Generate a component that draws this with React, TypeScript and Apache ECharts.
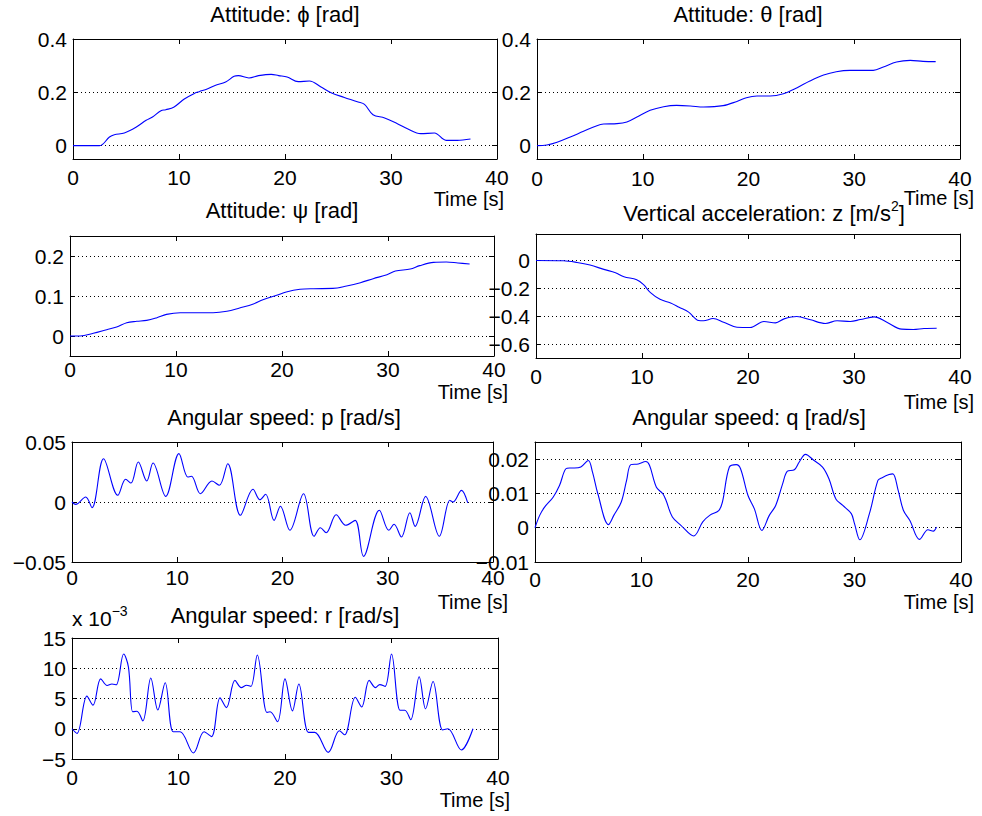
import React, { useEffect, useRef } from "react";
import * as echarts from "echarts";

// ---------- data ----------
const xTicks = [0, 10, 20, 30, 40];

const phiT = [0, 2.5, 3.44, 3.9, 4.84, 5.94, 6.9, 7.5, 8.3, 8.75, 9.5, 10.5, 11.4, 11.9, 12.66, 13.4, 14.4, 15.2, 15.6, 16.6, 17.5, 18.7, 19.4, 20.2, 21.25, 22.3, 23.4, 24.4, 25.6, 26.9, 27.5, 28.3, 29.4, 30.6, 31.6, 32.8, 34.1, 35.2, 36.25, 37.5];
const phiV = [0, 0, 0.0325, 0.041, 0.0475, 0.069, 0.095, 0.1075, 0.131, 0.135, 0.144, 0.175, 0.195, 0.2025, 0.2125, 0.226, 0.239, 0.26, 0.2625, 0.254, 0.2625, 0.2675, 0.2625, 0.2575, 0.24, 0.2425, 0.22, 0.1975, 0.181, 0.164, 0.155, 0.116, 0.104, 0.0825, 0.0625, 0.045, 0.0475, 0.02, 0.02, 0.025];
const phiTicks = [0, 0.2, 0.4];

const thetaT = [0, 0.94, 1.9, 3.15, 4.4, 5.67, 6.3, 7.56, 8.5, 9.45, 10.7, 11.97, 13.2, 14.5, 15.75, 17.6, 18.9, 19.8, 20.8, 22.05, 23.3, 24.6, 25.8, 27.1, 28.3, 29.6, 30.9, 31.8, 32.75, 34.0, 35.3, 36.5, 37.7];
const thetaV = [0, 0.0025, 0.0125, 0.0325, 0.054, 0.075, 0.081, 0.0825, 0.089, 0.1075, 0.1325, 0.146, 0.151, 0.149, 0.145, 0.15, 0.166, 0.18, 0.186, 0.186, 0.195, 0.2175, 0.2425, 0.265, 0.2775, 0.2825, 0.2825, 0.2825, 0.295, 0.314, 0.32, 0.316, 0.315];
const thetaTicks = [0, 0.2, 0.4];

const psiT = [0, 0.94, 2.2, 3.46, 4.4, 5.35, 6.3, 7.23, 8.2, 9.1, 10.4, 11.6, 13.5, 14.8, 16.0, 17.3, 18.2, 19.5, 20.4, 21.7, 22.96, 24.8, 26.1, 27.4, 28.6, 29.9, 30.7, 32.1, 33.0, 34.3, 35.5, 36.6, 37.7];
const psiV = [0, 0, 0.0067, 0.0158, 0.0225, 0.0333, 0.0367, 0.039, 0.0458, 0.054, 0.058, 0.058, 0.058, 0.0617, 0.07, 0.08, 0.0908, 0.1017, 0.11, 0.1167, 0.1183, 0.119, 0.125, 0.1333, 0.1433, 0.1533, 0.1625, 0.1675, 0.176, 0.184, 0.185, 0.1825, 0.18];
const psiTicks = [0, 0.1, 0.2];

const zT = [0, 2.6, 3.87, 5.1, 6.4, 7.5, 8.3, 9.5, 10.15, 10.8, 11.7, 12.7, 13.5, 14.4, 15.35, 15.8, 16.7, 17.7, 18.96, 20.2, 21.5, 22.6, 23.4, 24.6, 25.9, 27.3, 28.4, 29.65, 30.6, 31.9, 33.1, 34.5, 35.6, 36.6, 37.8];
const zV = [0, -0.002, -0.014, -0.033, -0.064, -0.088, -0.117, -0.138, -0.174, -0.231, -0.279, -0.305, -0.336, -0.371, -0.431, -0.433, -0.417, -0.443, -0.479, -0.481, -0.438, -0.448, -0.419, -0.402, -0.426, -0.452, -0.433, -0.438, -0.424, -0.405, -0.443, -0.493, -0.495, -0.488, -0.486];
const zTicks = [-0.6, -0.4, -0.2, 0];

const pT = [0, 0.35, 1.3, 1.9, 3.0, 4.35, 5.1, 5.6, 6.3, 7.1, 7.7, 8.9, 10.16, 11.0, 11.35, 12.2, 13.3, 14.0, 14.8, 16.0, 17.2, 17.85, 18.4, 19.2, 19.8, 20.7, 22.0, 23.0, 23.6, 24.15, 25.1, 26.0, 26.9, 27.7, 29.2, 30.1, 30.6, 31.3, 32.1, 32.6, 33.6, 34.9, 35.9, 36.2, 37.0, 37.6];
const pV = [0, -0.002, 0.0042, -0.0047, 0.0361, 0.0056, 0.0189, 0.0158, 0.0333, 0.0175, 0.0325, 0.0047, 0.0403, 0.0208, 0.0214, 0.0069, 0.0175, 0.0139, 0.0319, -0.0111, 0.0106, 0.0019, 0.0064, -0.0153, -0.0036, -0.0236, 0.0069, -0.0286, -0.0214, -0.0256, -0.0106, -0.0194, -0.0153, -0.0453, -0.0069, -0.0236, -0.0186, -0.0292, -0.0089, -0.0203, 0.0047, -0.0286, 0.0014, 0, 0.0097, -0.0008];
const pTicks = [-0.05, 0, 0.05];

const qT = [0, 0.44, 0.9, 1.7, 2.3, 2.9, 3.25, 3.7, 4.3, 5.0, 5.4, 5.9, 6.9, 7.4, 8.1, 8.6, 9.0, 9.7, 10.4, 10.75, 11.4, 12.0, 12.3, 12.9, 13.7, 14.9, 15.75, 16.4, 17.25, 17.6, 18.25, 18.9, 19.3, 20.0, 20.6, 21.3, 22.0, 22.6, 23.25, 23.7, 24.35, 24.8, 25.4, 26.2, 27.0, 27.6, 28.25, 28.9, 29.7, 30.0, 30.5, 31.4, 32.2, 32.6, 33.25, 33.6, 34.1, 34.6, 35.2, 36.1, 36.9, 37.4, 37.7];
const qV = [0, 0.0036, 0.006, 0.0089, 0.0123, 0.0172, 0.0174, 0.0174, 0.0177, 0.0196, 0.0162, 0.0099, 0.0009, 0.0036, 0.0075, 0.0138, 0.0184, 0.0186, 0.0193, 0.0182, 0.0118, 0.0099, 0.008, 0.0031, 0.0007, -0.0024, 0.0017, 0.0036, 0.005, 0.0075, 0.0177, 0.0184, 0.0172, 0.0094, 0.0055, -0.0008, 0.0036, 0.0065, 0.0128, 0.0165, 0.0169, 0.0191, 0.0214, 0.0196, 0.0177, 0.0143, 0.0084, 0.0065, 0.0041, 0.0012, -0.0035, 0.0041, 0.0138, 0.0146, 0.0155, 0.0157, 0.0109, 0.005, 0.0021, -0.0034, -0.0006, -0.001, 0.0002];
const qTicks = [-0.01, 0, 0.01, 0.02];

// r values in units of 1e-3 rad/s
const rT = [0, 0.47, 1.4, 1.97, 2.7, 3.3, 3.75, 4.15, 4.85, 5.3, 5.7, 6.1, 6.65, 7.4, 8.06, 8.75, 9.5, 10.15, 11.4, 12.4, 13.1, 13.9, 14.5, 15.3, 15.9, 16.4, 16.8, 17.4, 18.3, 18.6, 19.3, 20.0, 20.7, 21.3, 22.2, 22.8, 24.06, 25.1, 25.6, 26.6, 27.2, 27.9, 28.5, 28.9, 29.4, 30.0, 30.8, 31.25, 31.8, 32.6, 33.2, 33.9, 34.8, 35.3, 36.56, 37.65];
const rV = [0, -0.77, 5.4, 3.9, 8.25, 7.16, 7.4, 7.27, 12.35, 10.2, 2.8, 2.9, 1.3, 8.4, 3.1, 7.6, -0.5, -0.5, -4.0, -0.5, -1.3, 5.1, 3.5, 8.0, 6.8, 7.2, 7.0, 12.2, 2.7, 2.8, 1.15, 8.25, 2.95, 7.4, -0.6, -0.6, -3.9, -0.33, -1.0, 5.2, 3.6, 8.0, 6.8, 7.3, 7.0, 12.35, 3.06, 3.06, 1.5, 8.6, 3.3, 7.8, -0.2, 0, -3.5, 0];
const rTicks = [-5, 0, 5, 10, 15];

const titles = [
  "Attitude: \u03d5 [rad]",
  "Attitude: \u03b8 [rad]",
  "Attitude: \u03c8 [rad]",
  "Vertical acceleration: z [m/s{sup|2}]",
  "Angular speed: p [rad/s]",
  "Angular speed: q [rad/s]",
  "Angular speed: r [rad/s]",
];
const xLabel = "Time [s]";

// ---------- layout / style ----------
const FONT = '"Liberation Sans", Arial, Helvetica, sans-serif';
const BLUE = "#0000ff";

const zip = (t: number[], v: number[]) => {
  const n = Math.min(t.length, v.length);
  const out: number[][] = [];
  for (let i = 0; i < n; i++) out.push([t[i], v[i]]);
  return out;
};
const fmt = (v: number) => String(parseFloat(Number(v).toPrecision(6))).replace("-", "\u2212");

export default function App() {
  const ref = useRef<HTMLDivElement>(null);
  useEffect(() => {
    if (!ref.current) return;
    const chart = echarts.init(ref.current, null, { renderer: "svg" });
    const panels = [
      { t: phiT, v: phiV, min: -0.05, max: 0.4, ticks: phiTicks, g: { left: 73, top: 39, width: 424, height: 120 }, xm: 8, title: [285, 14], xl: [504, 199] },
      { t: thetaT, v: thetaV, min: -0.05, max: 0.4, ticks: thetaTicks, g: { left: 537, top: 39, width: 423, height: 120 }, xm: 9, title: [748, 14], xl: [974, 198] },
      { t: psiT, v: psiV, min: -0.05, max: 0.25, ticks: psiTicks, g: { left: 70, top: 236, width: 424, height: 120 }, xm: 3, title: [282, 210], xl: [508, 392] },
      { t: zT, v: zV, min: -0.7, max: 0.19, ticks: zTicks, g: { left: 536, top: 234, width: 424, height: 124 }, xm: 8, title: [764, 213], xl: [974, 402] },
      { t: pT, v: pV, min: -0.05, max: 0.05, ticks: pTicks, g: { left: 72, top: 442, width: 421, height: 120 }, xm: 5, title: [284, 417], xl: [508, 602] },
      { t: qT, v: qV, min: -0.01, max: 0.025, ticks: qTicks, g: { left: 535, top: 442, width: 426, height: 120 }, xm: 7, title: [749, 417], xl: [974, 602] },
      { t: rT, v: rV, min: -5, max: 15, ticks: rTicks, g: { left: 72, top: 638, width: 426, height: 121 }, xm: 8, title: [285, 615], xl: [510, 800] },
    ];
    const axisLine = { onZero: false, lineStyle: { color: "#000", width: 1 } };
    const tick = { inside: true, length: 5, lineStyle: { color: "#000", width: 1 } };
    const grid: any[] = [];
    const xAxis: any[] = [];
    const yAxis: any[] = [];
    const series: any[] = [];
    const graphic: any[] = [];
    panels.forEach((p, i) => {
      grid.push({ ...p.g, containLabel: false, show: false });
      xAxis.push({
        type: "value", gridIndex: i, position: "bottom", min: xTicks[0], max: xTicks[xTicks.length - 1], interval: 10,
        axisLine, axisTick: tick, splitLine: { show: false },
        axisLabel: { fontSize: 21, fontFamily: FONT, color: "#000", margin: p.xm, showMinLabel: true, showMaxLabel: true, formatter: fmt },
      });
      xAxis.push({
        type: "value", gridIndex: i, position: "top", min: xTicks[0], max: xTicks[xTicks.length - 1], interval: 10,
        axisLine, axisTick: tick, splitLine: { show: false }, axisLabel: { show: false },
      });
      yAxis.push({
        type: "value", gridIndex: i, position: "left", min: p.min, max: p.max,
        axisLine, axisTick: { ...tick, customValues: p.ticks },
        axisLabel: { customValues: p.ticks, fontSize: 21, fontFamily: FONT, color: "#000", margin: 6, formatter: fmt, showMinLabel: true, showMaxLabel: true },
        splitLine: { show: true, lineStyle: { color: "#000", width: 1, type: [1, 3] } },
      });
      yAxis.push({
        type: "value", gridIndex: i, position: "right", min: p.min, max: p.max,
        axisLine, axisTick: { ...tick, customValues: p.ticks },
        axisLabel: { show: false, customValues: p.ticks }, splitLine: { show: false },
      });
      series.push({
        type: "line", xAxisIndex: 2 * i, yAxisIndex: 2 * i, data: zip(p.t, p.v),
        showSymbol: false, smooth: 0.35, silent: true, z: 5,
        lineStyle: { color: BLUE, width: 1.1 },
      });
      graphic.push({
        type: "text", x: p.title[0], y: p.title[1], silent: true,
        style: {
          text: titles[i], fontSize: 22, fontFamily: FONT, fill: "#000", align: "center", verticalAlign: "middle",
          lineHeight: 28,
          rich: { sup: { fontSize: 14, fontFamily: FONT, fill: "#000", verticalAlign: "top", lineHeight: 14 } },
        },
      });
      graphic.push({
        type: "text", x: p.xl[0], y: p.xl[1], silent: true,
        style: { text: xLabel, fontSize: 20, fontFamily: FONT, fill: "#000", align: "right", verticalAlign: "middle" },
      });
    });
    graphic.push({
      type: "text", x: 72, y: 618, silent: true,
      style: {
        text: "x 10{sup|\u22123}", fontSize: 21, fontFamily: FONT, fill: "#000", align: "left", verticalAlign: "middle",
        lineHeight: 28,
        rich: { sup: { fontSize: 14, fontFamily: FONT, fill: "#000", verticalAlign: "top", lineHeight: 14 } },
      },
    });
    chart.setOption({
      animation: false,
      backgroundColor: "#fff",
      grid, xAxis, yAxis, series, graphic,
    });
    return () => chart.dispose();
  }, []);
  return (
    <div
      ref={ref}
      style={{ position: "fixed", left: 0, top: 0, width: 982, height: 816, background: "#fff" }}
    />
  );
}
